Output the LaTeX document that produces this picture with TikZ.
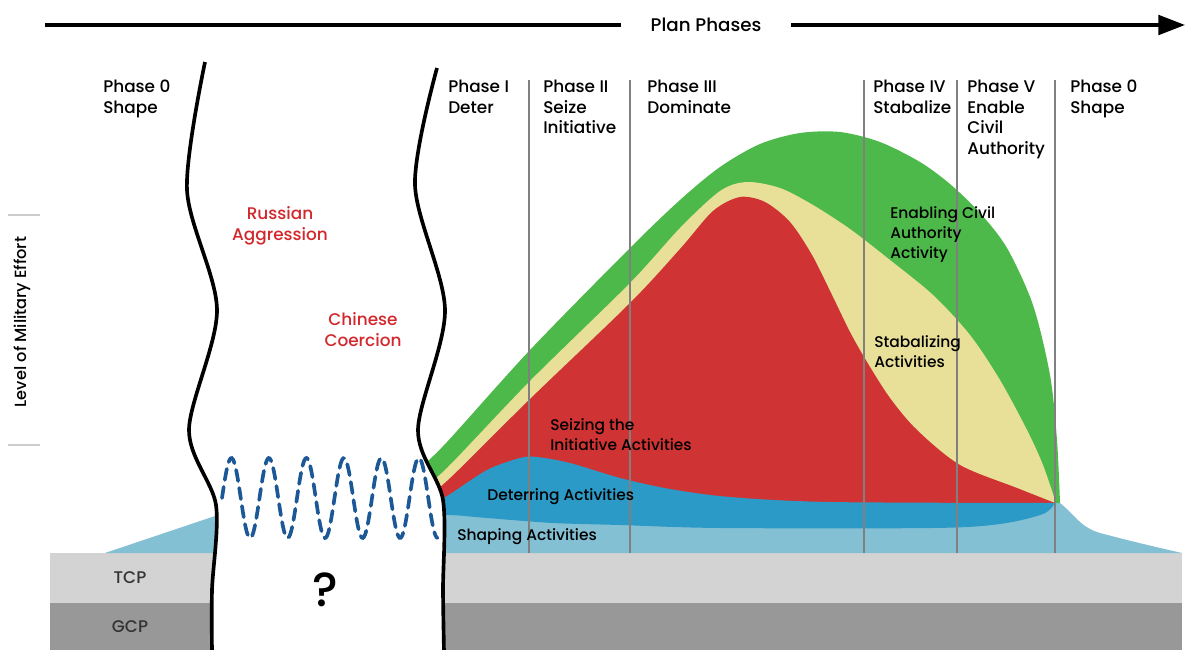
\documentclass[tikz,border=0pt]{standalone}
\usepackage{fontspec}
\setmainfont{Poppins Medium}
\usetikzlibrary{arrows.meta,positioning}
\definecolor{effgreen}{RGB}{77,185,74}
\definecolor{effyellow}{RGB}{232,223,152}
\definecolor{effred}{RGB}{208,51,51}
\definecolor{effblue}{RGB}{44,154,198}
\definecolor{efflight}{RGB}{132,192,212}
\definecolor{wavec}{RGB}{28,88,150}
\definecolor{tcpc}{RGB}{211,211,211}
\definecolor{gcpc}{RGB}{152,152,152}
\definecolor{phaseline}{RGB}{128,128,128}
\definecolor{threatc}{RGB}{210,40,45}
\tikzset{
  phase/.style={anchor=north west, inner sep=0pt, align=left,
    font=\fontsize{12}{14.6}\selectfont},
  activity/.style={anchor=west, inner sep=0pt, align=left,
    font=\fontsize{11}{14.2}\selectfont},
  threat/.style={text=threatc, align=center, inner sep=0pt,
    font=\fontsize{12}{15}\selectfont},
  seam/.style={line width=2.6pt, black},
  plan/.style={line width=2.4pt, -{Triangle[length=19pt,width=14pt]}},
}

\begin{document}
\begin{tikzpicture}[x=0.025cm,y=-0.025cm]
\useasboundingbox (0,0) rectangle (1186,650);
% cooperation plans
\fill[tcpc] (50,553) rectangle (1182,603);
\fill[gcpc] (50,603) rectangle (1182,650);
% effort layers
\fill[efflight] (105,553) -- (215,516) -- (440,508) -- (1060,503)
  .. controls (1075,515) and (1080,527) .. (1100,533)
  .. controls (1130,541) and (1160,548) .. (1182,553) -- cycle;
\fill[effgreen] plot[smooth] coordinates {(420,468) (447,442) (530,350) (630,248)
  (680,200) (720,167) (760,144) (800,133) (840,132) (880,142) (920,162) (950,184)
  (980,213) (1007,248) (1033,305) (1050,375) (1057,440) (1060,503)}
  -- (420,505) -- cycle;
\fill[effyellow] plot[smooth] coordinates {(420,490) (447,468) (530,381) (630,283)
  (680,228) (720,191) (747,182) (780,188) (813,205) (850,229) (890,260) (933,295)
  (970,335) (1000,380) (1027,430) (1043,465) (1056,503)}
  -- (420,505) -- cycle;
\fill[effred] plot[smooth] coordinates {(420,500) (447,481) (530,399) (630,303)
  (680,249) (713,211) (740,197) (765,202) (790,222) (812,255) (832,295) (850,332)
  (867,362) (890,398) (917,430) (960,465) (1017,488) (1055,503)}
  -- (420,505) -- cycle;
\fill[effblue] plot[smooth] coordinates {(420,509) (447,496) (487,470) (520,458) (537,457)
  (570,463) (620,478) (670,489) (730,497) (830,502) (1055,503)}
  -- plot[smooth] coordinates {(1055,503) (1043,514) (1000,524) (933,528) (720,528)
  (620,525) (553,523) (487,518) (450,515) (420,516)} -- cycle;
\foreach \x in {529,630,864,957,1055}
  \draw[phaseline, line width=1.4pt] (\x,80) -- (\x,553);
% the gap
\fill[white] plot[smooth] coordinates {(205,62) (187,190) (217,310) (189,430)
  (216,505) (212,590) (212,652)}
  -- plot[smooth] coordinates {(444,652) (443,590) (443,500) (418,430) (445,310)
  (415,185) (437,68)} -- cycle;
\draw[seam] plot[smooth] coordinates {(205,62) (187,190) (217,310) (189,430)
  (216,505) (212,590) (212,652)};
\draw[seam] plot[smooth] coordinates {(437,68) (415,185) (445,310) (418,430)
  (443,500) (443,590) (444,652)};
\draw[wavec, line width=2.6pt, dash pattern=on 8pt off 5pt, line cap=round]
  plot[domain=0:5.75, samples=200, smooth] ({222+37.5*\x},{498-40*sin(360*\x)});
% labels
\draw[plan] (45,25) -- (1185,25);
\node[fill=white, inner xsep=21pt, inner ysep=6pt, font=\fontsize{13}{15}\selectfont]
  (planlbl) at (706,25) {Plan Phases};
\foreach [count=\i] \x/\t in {103/{Phase 0\\Shape}, 448/{Phase I\\Deter},
    543/{Phase II\\Seize\\Initiative}, 647/{Phase III\\Dominate},
    873/{Phase IV\\Stabalize}, 967/{Phase V\\Enable\\Civil\\Authority},
    1070/{Phase 0\\Shape}}
  \node[phase] (ph\i) at (\x,80) {\t};
\node[threat] (russia) at (280,226) {Russian\\Aggression};
\node[threat] (china) at (363,330) {Chinese\\Coercion};
\node[activity] (seize) at (550,435) {Seizing the\\Initiative Activities};
\node[activity] (deter) at (487,497) {Deterring Activities};
\node[activity] (shape) at (457,537) {Shaping Activities};
\node[activity] (enable) at (890,235) {Enabling Civil\\Authority\\Activity};
\node[activity] (stab) at (874,352) {Stabalizing\\Activities};
\node[text=black!80, font=\fontsize{12}{14}\selectfont] (tcp) at (130,578) {TCP};
\node[text=black!80, font=\fontsize{12}{14}\selectfont] (gcp) at (130,627) {GCP};
\node[font=\fontsize{34}{38}\selectfont] (unknown) at (325,590) {?};
\node[rotate=90, font=\fontsize{11.5}{14}\selectfont] (effort) at (22,322) {Level of Military Effort};
\draw[black!20, line width=1pt] (8,215) -- (40,215);
\draw[black!20, line width=1pt] (8,445) -- (40,445);
\end{tikzpicture}
\end{document}
